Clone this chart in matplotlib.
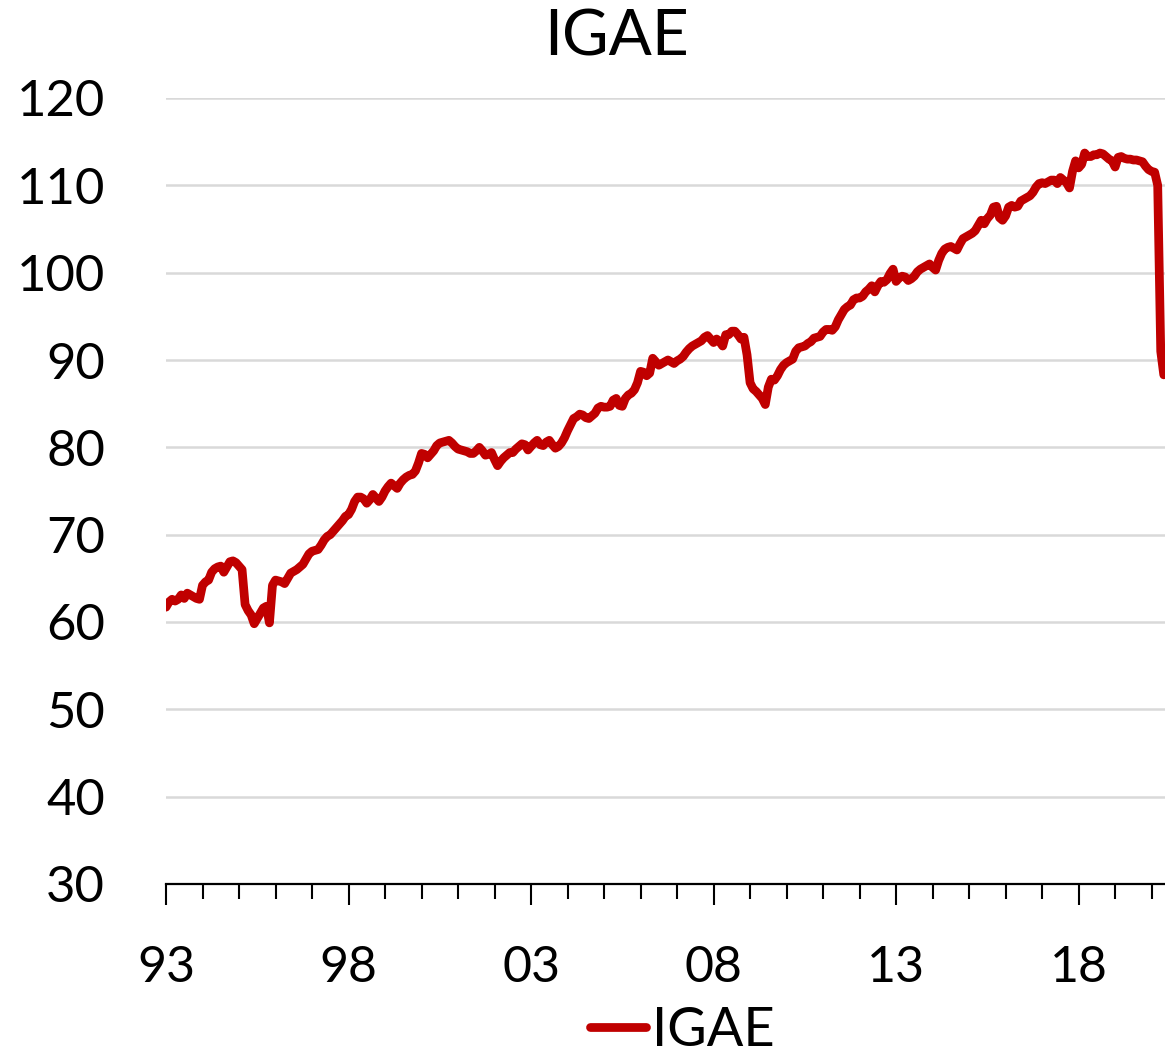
import numpy as np
import matplotlib
matplotlib.use("Agg")
import matplotlib.pyplot as plt

# Monthly IGAE index (Jan 1993 - May 2020)
igae_1993 = [61.7, 62.3, 62.6, 62.4, 62.6, 63.1, 62.7, 63.3, 63.1, 62.9, 62.7, 62.6]
igae_1994 = [64.2, 64.6, 64.8, 65.7, 66.1, 66.3, 66.4, 65.7, 66.3, 66.9, 67.0, 66.8]
igae_1995 = [66.4, 66.0, 62.0, 61.3, 60.8, 59.8, 60.4, 61.0, 61.6, 61.8, 59.9, 64.2]
igae_1996 = [64.8, 64.7, 64.6, 64.4, 65.0, 65.6, 65.8, 66.0, 66.3, 66.6, 67.2, 67.8]
igae_1997 = [68.1, 68.2, 68.3, 68.8, 69.4, 69.8, 70.0, 70.4, 70.8, 71.2, 71.6, 72.1]
igae_1998 = [72.3, 72.9, 73.8, 74.3, 74.3, 74.1, 73.6, 74.0, 74.6, 74.2, 73.8, 74.3]
igae_1999 = [75.0, 75.5, 75.9, 75.6, 75.3, 75.9, 76.3, 76.6, 76.8, 76.9, 77.3, 78.2]
igae_2000 = [79.3, 79.2, 78.8, 79.2, 79.6, 80.2, 80.5, 80.6, 80.7, 80.8, 80.5, 80.1]
igae_2001 = [79.8, 79.7, 79.6, 79.5, 79.3, 79.3, 79.6, 80.0, 79.6, 79.1, 79.2, 79.4]
igae_2002 = [78.6, 77.9, 78.4, 78.8, 79.1, 79.4, 79.4, 79.8, 80.1, 80.4, 80.3, 79.7]
igae_2003 = [80.1, 80.5, 80.8, 80.3, 80.2, 80.6, 80.8, 80.3, 79.9, 80.1, 80.5, 81.1]
igae_2004 = [81.9, 82.6, 83.3, 83.5, 83.8, 83.7, 83.4, 83.3, 83.6, 83.9, 84.5, 84.7]
igae_2005 = [84.6, 84.6, 84.7, 85.4, 85.6, 84.8, 84.7, 85.6, 86.0, 86.2, 86.6, 87.4]
igae_2006 = [88.7, 88.6, 88.2, 88.5, 90.2, 89.8, 89.4, 89.6, 89.8, 90.0, 89.8, 89.6]
igae_2007 = [89.9, 90.1, 90.4, 90.9, 91.3, 91.6, 91.8, 92.0, 92.2, 92.6, 92.8, 92.4]
igae_2008 = [92.0, 92.4, 92.1, 91.6, 92.9, 92.9, 93.3, 93.3, 92.9, 92.4, 92.6, 90.6]
igae_2009 = [87.4, 86.7, 86.4, 86.0, 85.6, 84.9, 86.9, 87.8, 87.7, 88.2, 88.9, 89.4]
igae_2010 = [89.7, 89.9, 90.1, 91.0, 91.4, 91.5, 91.6, 91.9, 92.1, 92.5, 92.6, 92.7]
igae_2011 = [93.2, 93.5, 93.5, 93.4, 93.8, 94.6, 95.2, 95.8, 96.1, 96.3, 96.9, 97.1]
igae_2012 = [97.1, 97.3, 97.8, 98.1, 98.5, 97.8, 98.5, 99.0, 98.9, 99.2, 99.9, 100.4]
igae_2013 = [99.0, 99.4, 99.6, 99.5, 99.1, 99.3, 99.6, 100.1, 100.4, 100.6, 100.8, 101.0]
igae_2014 = [100.6, 100.3, 101.4, 102.2, 102.7, 102.9, 103.0, 102.8, 102.6, 103.3, 103.9, 104.1]
igae_2015 = [104.3, 104.5, 104.8, 105.4, 106.0, 105.6, 106.2, 106.6, 107.5, 107.6, 106.3, 106.0]
igae_2016 = [106.5, 107.5, 107.7, 107.5, 107.6, 108.2, 108.4, 108.6, 108.8, 109.2, 109.8, 110.2]
igae_2017 = [110.3, 110.2, 110.4, 110.6, 110.6, 110.2, 110.9, 110.6, 110.3, 109.7, 111.6, 112.8]
igae_2018 = [112.0, 112.4, 113.7, 113.3, 113.3, 113.5, 113.5, 113.7, 113.6, 113.3, 113.0, 112.8]
igae_2019 = [112.1, 113.2, 113.3, 113.1, 113.0, 113.0, 112.9, 112.9, 112.8, 112.7, 112.2, 111.8]
igae_2020 = [111.6, 111.5, 110.0, 91.0, 88.3]

START_YEAR = 1993
tick_years = [1993, 1998, 2003, 2008, 2013, 2018]
tick_labels = ["93", "98", "03", "08", "13", "18"]
y_ticks = [30, 40, 50, 60, 70, 80, 90, 100, 110, 120]

RED = "#C00000"
FONT = ["Lato", "DejaVu Sans"]


def main():
    plt.rcParams["font.family"] = FONT

    values = np.concatenate([
        igae_1993, igae_1994, igae_1995, igae_1996, igae_1997, igae_1998,
        igae_1999, igae_2000, igae_2001, igae_2002, igae_2003, igae_2004,
        igae_2005, igae_2006, igae_2007, igae_2008, igae_2009, igae_2010,
        igae_2011, igae_2012, igae_2013, igae_2014, igae_2015, igae_2016,
        igae_2017, igae_2018, igae_2019, igae_2020,
    ])
    t = START_YEAR + np.arange(len(values)) / 12.0

    fig = plt.figure(figsize=(11.65, 10.56), dpi=100)
    ax = fig.add_axes([166 / 1165, 1 - 884 / 1056, 999 / 1165, (884 - 98) / 1056])

    for v in y_ticks[1:]:
        ax.axhline(v, color="#d9d9d9", lw=1.8, zorder=1)

    ax.plot(t, values, color=RED, lw=6.3, solid_joinstyle="round",
            solid_capstyle="round", label="IGAE", zorder=3)

    ax.set_ylim(30, 120)
    ax.set_xlim(START_YEAR, START_YEAR + 328.4 / 12)
    ax.set_yticks(y_ticks)
    ax.set_yticklabels([str(v) for v in y_ticks], fontsize=36.5)
    ax.tick_params(axis="y", length=0, pad=44)

    ax.set_xticks(tick_years)
    ax.set_xticklabels(tick_labels, fontsize=36)
    ax.set_xticks(np.arange(1994, 2021), minor=True)
    ax.tick_params(axis="x", which="major", length=15, width=1.5, pad=29, direction="out")
    ax.tick_params(axis="x", which="minor", length=11, width=1.5, direction="out")

    for side in ("top", "right", "left"):
        ax.spines[side].set_visible(False)
    ax.spines["bottom"].set_color("#000000")
    ax.spines["bottom"].set_linewidth(1.6)

    fig.text(617 / 1165, 1 - 38 / 1056, "IGAE", ha="center", va="center", fontsize=46)

    handles, labels = ax.get_legend_handles_labels()
    fig.legend(handles, labels, loc="center", bbox_to_anchor=(682 / 1165, 1 - 1030 / 1056),
               frameon=False, fontsize=39, handlelength=1.05, handletextpad=0.1,
               borderpad=0)

    fig.savefig("out.png", dpi=100)
    plt.close(fig)


if __name__ == "__main__":
    main()
